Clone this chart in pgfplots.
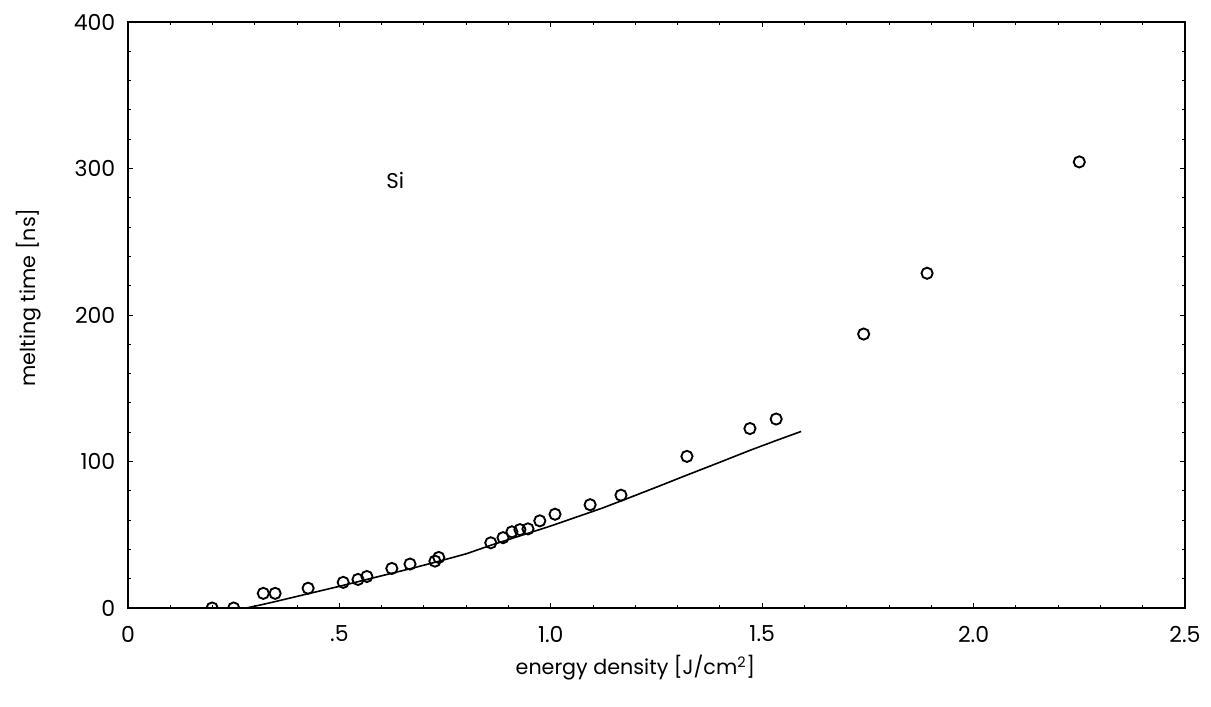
\documentclass[border=0pt]{standalone}
\usepackage{pgfplots}
\pgfplotsset{compat=1.18}
\usepackage{fontspec}
\setmainfont{Poppins}

% measured melting times of Si versus pulse energy density
\pgfplotstableread{
x     y
0.199 0
0.250 0
0.320 10
0.348 10
0.426 13.5
0.509 17.5
0.544 19.5
0.565 21.5
0.624 27
0.667 30
0.726 32
0.735 34.5
0.858 44.5
0.887 48
0.908 52
0.927 53.5
0.946 54
0.974 59.5
1.010 64
1.093 70.5
1.166 77
1.322 103.5
1.471 122.5
1.533 129
1.740 187
1.890 228.5
2.250 304.5
}\measured

% calculated curve
\pgfplotstableread{
x     y
0.280 0
0.320 2.5
0.350 4.5
0.430 10
0.510 15.5
0.600 22
0.670 27
0.730 31.5
0.800 37
0.860 43
0.930 49.5
1.000 56
1.060 62
1.120 68
1.170 73.5
1.250 82.5
1.320 90.5
1.400 99.5
1.470 107.5
1.530 114
1.592 120.5
}\calc

\begin{document}
\begin{tikzpicture}
\begin{axis}[
  scale only axis,
  width=792.75pt, height=439.5pt,
  xmin=0, xmax=2.5, ymin=0, ymax=400,
  xtick={0,0.5,1,1.5,2,2.5},
  xticklabels={0,.5,1.0,1.5,2.0,2.5},
  ytick={0,100,200,300,400},
  minor x tick num=4,
  minor y tick num=4,
  tick align=inside,
  major tick length=4pt,
  minor tick length=2.5pt,
  tick style={black, line width=0.7pt},
  axis line style={line width=1.1pt},
  /pgf/number format/assume math mode=true,
  ticklabel style={font=\fontsize{16.5}{18}\selectfont},
  xticklabel style={yshift=-10pt},
  yticklabel style={xshift=-6pt},
  label style={font=\fontsize{15.5}{18}\selectfont},
  xlabel={energy density [J/cm\textsuperscript{2}]},
  ylabel={melting time [ns]},
  xlabel style={at={(axis description cs:0.48,0)}, anchor=north, yshift=-32pt},
  ylabel style={at={(axis description cs:0,0.53)}, anchor=south, yshift=62pt},
  clip marker paths=true,
]
\addplot[black, line width=1.2pt] table[x=x, y=y] {\calc};
\addplot[only marks, mark=o, mark size=4.2pt, mark options={line width=1.4pt, black}]
  table[x=x, y=y] {\measured};
\node[font=\fontsize{16}{18}\selectfont] at (axis cs:0.632,292) {Si};
\end{axis}
\pgfresetboundingbox
\path[use as bounding box] (-96pt,-74.25pt) rectangle (812.25pt,456pt);
\end{tikzpicture}
\end{document}
